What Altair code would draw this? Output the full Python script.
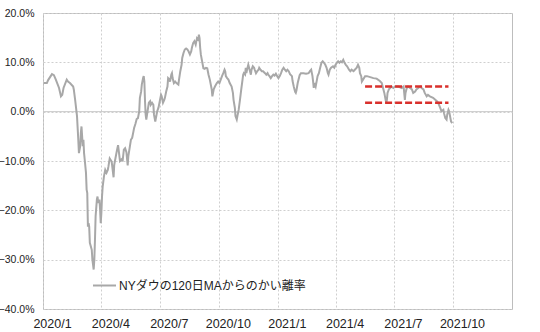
import altair as alt
import pandas as pd

# Days since 2020-01-01 and the deviation (%)
days = [
    1, 6, 8, 14, 17, 20, 25, 28, 30, 32,
    37, 39, 42, 47, 48, 50, 53, 55, 56, 58,
    59, 60, 62, 63, 64, 65, 67, 68, 69, 70,
    71, 72, 73, 76, 77, 79, 80, 81, 82, 84,
    85, 86, 88, 89, 90, 91, 92, 93, 95, 97,
    99, 101, 102, 104, 107, 110, 111, 113, 115, 117,
    120, 123, 124, 126, 128, 130, 132, 133, 135, 137,
    139, 141, 142, 144, 146, 148, 150, 151, 153, 154,
    156, 157, 158, 159, 160, 161, 163, 165, 167, 168,
    170, 172, 173, 175, 177, 178, 180, 182, 184, 185,
    187, 189, 190, 192, 194, 195, 197, 198, 200, 201,
    202, 204, 206, 208, 211, 212, 214, 216, 217, 219,
    221, 223, 225, 227, 229, 231, 232, 234, 236, 238,
    240, 242, 243, 244, 245, 246, 248, 250, 252, 254,
    256, 258, 260, 263, 264, 266, 268, 271, 273, 275,
    277, 279, 281, 283, 284, 285, 287, 289, 291, 294,
    296, 297, 299, 300, 302, 303, 305, 307, 309, 311,
    312, 313, 315, 316, 317, 318, 320, 322, 324, 325,
    327, 329, 330, 332, 334, 336, 337, 339, 341, 343,
    346, 348, 350, 351, 353, 355, 357, 359, 361, 363,
    365, 367, 369, 371, 373, 375, 377, 379, 381, 383,
    385, 388, 389, 391, 393, 394, 395, 397, 400, 402,
    406, 410, 414, 416, 418, 420, 421, 422, 423, 425,
    427, 428, 430, 432, 434, 436, 438, 440, 442, 444,
    445, 447, 449, 452, 454, 456, 458, 460, 462, 464,
    466, 468, 470, 472, 474, 477, 479, 481, 484, 486,
    489, 491, 493, 494, 496, 497, 499, 502, 505, 510,
    515, 520, 525, 528, 530, 532, 534, 535, 536, 537,
    539, 541, 543, 546, 549, 554, 559, 562, 563, 564,
    565, 567, 569, 572, 575, 577, 580, 582, 585, 588,
    590, 593, 595, 598, 600, 603, 608, 614, 616, 619,
    621, 624, 625, 627, 629, 630, 632, 633, 635, 636, 638,
]
values = [
    5.8, 5.8, 6.4, 7.6, 7.4, 6.5, 4.8, 3.1, 3.4, 4.8,
    6.5, 6.1, 5.8, 5.1, 4.5, 2.5, -0.9, -5.7, -8.4, -7.0,
    -4.3, -3.0, -7.0, -5.7, -8.4, -9.7, -12.4, -15.8, -16.5, -23.3,
    -22.6, -23.3, -26.6, -28.0, -30.0, -32.0, -30.0, -26.0, -21.2, -17.8,
    -17.2, -18.5, -17.8, -19.9, -22.6, -20.5, -17.2, -15.2, -13.1, -11.8,
    -12.4, -11.8, -11.1, -9.5, -10.1, -13.3, -10.8, -9.4, -8.0, -6.8,
    -10.0, -9.6, -10.1, -7.7, -7.4, -8.2, -10.9, -9.0, -7.4, -5.7,
    -5.3, -4.0, -3.3, -2.5, -1.5, -1.3, 0.1, 2.8, 4.1, 5.5,
    6.8, 7.2, 6.1, 2.1, -0.6, -1.6, 0.1, 1.8, 2.1, 1.4,
    1.8, 1.4, -0.6, -2.0, -0.6, 0.1, 0.8, 2.1, 3.4, 3.1,
    1.8, 2.4, 2.8, 4.1, 5.1, 6.8, 6.5, 6.1, 7.5, 7.8,
    6.8, 5.8, 6.1, 5.8, 5.5, 6.5, 8.2, 9.5, 10.9, 11.9,
    12.6, 12.8, 12.6, 12.2, 11.6, 12.2, 12.9, 13.9, 14.3, 13.6,
    14.9, 14.6, 15.6, 14.9, 12.9, 11.6, 10.2, 8.8, 8.7, 8.9,
    8.8, 7.5, 6.5, 4.5, 3.1, 4.5, 5.1, 5.8, 6.1, 5.8,
    6.5, 7.2, 7.8, 8.5, 8.2, 7.2, 6.8, 6.5, 5.8, 5.1,
    3.8, 2.4, 0.8, -0.9, -1.6, -0.9, 0.4, 2.4, 4.5, 6.5,
    7.5, 7.8, 7.5, 8.9, 7.8, 8.5, 9.5, 8.5, 7.5, 8.5,
    9.2, 8.9, 8.5, 7.8, 8.2, 8.5, 8.9, 8.5, 8.2, 8.2,
    7.8, 7.5, 7.8, 7.5, 7.2, 6.8, 7.2, 7.5, 7.3, 7.7,
    7.2, 6.8, 7.2, 7.8, 8.5, 8.9, 8.5, 8.2, 8.5, 8.2,
    7.6, 7.2, 6.2, 5.0, 4.0, 3.8, 4.3, 5.8, 7.4, 7.8,
    7.8, 7.7, 7.8, 8.2, 8.5, 7.2, 6.1, 4.8, 5.8, 5.1,
    6.5, 7.2, 7.8, 8.9, 9.9, 10.2, 9.9, 9.5, 8.9, 7.8,
    7.5, 8.5, 8.9, 9.2, 8.9, 9.5, 9.9, 10.2, 9.9, 10.2,
    10.0, 10.5, 9.9, 9.5, 9.2, 8.5, 8.2, 8.5, 8.2, 8.5,
    8.9, 9.5, 8.9, 7.8, 7.2, 6.1, 6.5, 7.2, 7.2, 7.0,
    6.8, 6.7, 6.2, 5.8, 4.8, 3.8, 2.4, 1.8, 2.4, 3.8,
    4.5, 4.8, 5.1, 4.8, 5.1, 5.1, 4.8, 5.1, 3.8, 2.4,
    3.8, 4.8, 5.1, 4.8, 4.5, 3.8, 4.1, 4.5, 4.8, 5.1,
    4.8, 4.5, 3.8, 3.1, 3.4, 3.1, 2.8, 2.1, 1.8, 0.8,
    0.1, 0.4, -0.3, -1.3, -1.6, -0.6, 0.4, 0.1, -1.3, -2.0, -2.3,
]
assert len(days) == len(values)

series_name = "NYダウの120日MAからのかい離率"

# red dashed range lines
band_start = "2021-05-17"
band_end = "2021-09-24"
band_levels = [5.1, 1.8]

x_tick_dates = [(2020, 1), (2020, 4), (2020, 7), (2020, 10),
                (2021, 1), (2021, 4), (2021, 7), (2021, 10)]
y_ticks = [20, 10, 0, -10, -20, -30, -40]

base = pd.Timestamp("2020-01-01")
dates = [(base + pd.Timedelta(days=d)).strftime("%Y-%m-%d") for d in days]
df = pd.DataFrame({"date": dates, "value": values, "series": series_name})

band_df = pd.DataFrame({
    "start": [band_start] * len(band_levels),
    "end": [band_end] * len(band_levels),
    "level": band_levels,
})
zero_df = pd.DataFrame({"y": [0]})

x_scale = alt.Scale(
    type="utc",
    domain=[alt.DateTime(year=2020, month=1, date=1, utc=True),
            alt.DateTime(year=2022, month=1, date=1, utc=True)],
)
y_scale = alt.Scale(domain=[-40, 20], nice=False, zero=False)

x_axis = alt.Axis(
    title=None,
    values=[alt.DateTime(year=y, month=m, date=1, utc=True) for y, m in x_tick_dates],
    labelExpr="utcFormat(datum.value, '%Y/%-m')",
    grid=True, gridColor="#cfcfcf", gridDash=[2, 2], gridWidth=1,
    domain=False, ticks=False,
    labelFont="Liberation Sans", labelFontSize=12.5, labelColor="#222222",
    labelPadding=8, labelOffset=9, labelFlush=False, labelOverlap=False,
)
y_axis = alt.Axis(
    title=None, values=y_ticks,
    labelExpr="format(datum.value, '.1f') + '%'",
    grid=True, gridColor="#cfcfcf", gridDash=[2, 2], gridWidth=1,
    domain=False, ticks=False,
    labelFont="Liberation Sans", labelFontSize=10.5, labelColor="#222222",
    labelPadding=9,
)

line = alt.Chart(df).mark_line(strokeWidth=2, interpolate="linear").encode(
    x=alt.X("date:T", scale=x_scale, axis=x_axis),
    y=alt.Y("value:Q", scale=y_scale, axis=y_axis),
    color=alt.Color(
        "series:N",
        scale=alt.Scale(domain=[series_name], range=["#a8a8a8"]),
        legend=alt.Legend(
            title=None, orient="none", legendX=49, legendY=260,
            symbolType="stroke", symbolSize=529, symbolStrokeWidth=2,
            labelFont="Liberation Sans, 'Noto Sans CJK JP'",
            labelFontSize=12, labelColor="#222222", labelOffset=2,
            labelLimit=400, padding=0,
        ),
    ),
)

zero_rule = alt.Chart(zero_df).mark_rule(color="#c8c8c8", strokeWidth=1).encode(
    y=alt.Y("y:Q", scale=y_scale)
)

bands = alt.Chart(band_df).mark_rule(
    color="#d9302c", strokeWidth=2.5, strokeDash=[7, 3]
).encode(
    x=alt.X("start:T", scale=x_scale),
    x2="end:T",
    y=alt.Y("level:Q", scale=y_scale),
)

chart = alt.layer(zero_rule, line, bands).properties(
    width=469, height=296,
    autosize=alt.AutoSizeParams(type="none"),
    padding={"left": 43, "top": 13, "right": 28, "bottom": 23},
    background="white",
).configure_view(stroke="#bdbdbd", strokeWidth=1)

chart.save("out.html", embed_options={"renderer": "svg", "actions": False})
